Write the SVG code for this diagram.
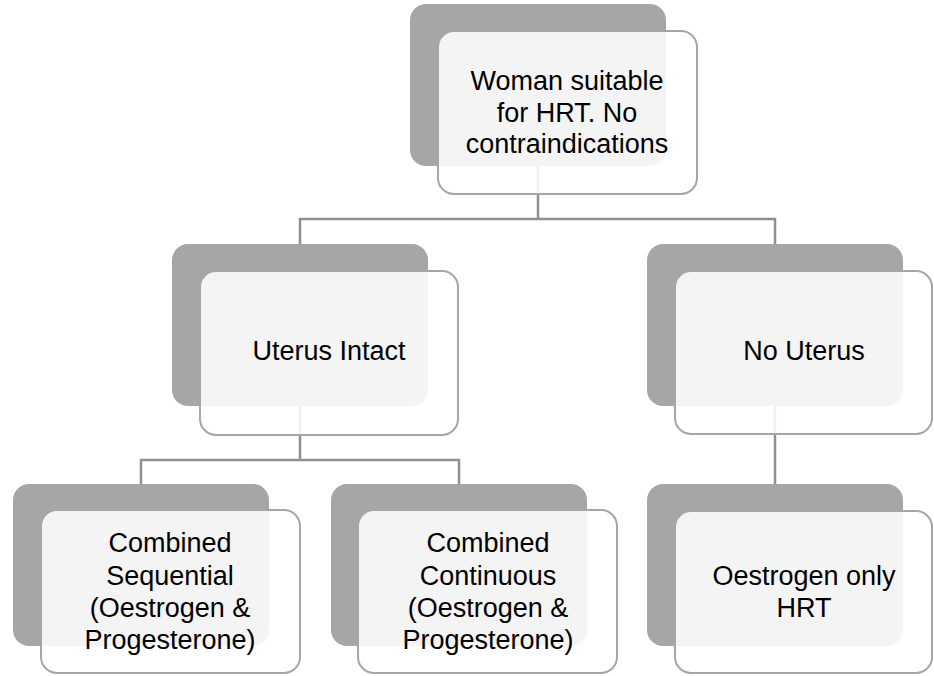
<svg xmlns="http://www.w3.org/2000/svg" width="934" height="676" viewBox="0 0 934 676">
<style>
.back{fill:#a6a6a6}
.front{fill:#ffffff;fill-opacity:0.88;stroke:#a6a6a6;stroke-width:2}
.conn{fill:none;stroke:#8f8f8f;stroke-width:2.5}
text{font-family:"Liberation Sans",Arial,sans-serif;font-size:27px;fill:#000;text-anchor:middle}
</style>
<rect width="934" height="676" fill="#ffffff"/>
<g id="n1-back"><rect class="back" x="410" y="4" width="256" height="162" rx="16"/></g>
<g id="n2-back"><rect class="back" x="172" y="244" width="256" height="162" rx="16"/></g>
<g id="n3-back"><rect class="back" x="647" y="244" width="256" height="162" rx="16"/></g>
<g id="n4-back"><rect class="back" x="13" y="484" width="256" height="162" rx="16"/></g>
<g id="n5-back"><rect class="back" x="331" y="484" width="256" height="162" rx="16"/></g>
<g id="n6-back"><rect class="back" x="647" y="484" width="256" height="162" rx="16"/></g>
<g id="connectors">
<path class="conn" d="M538 166 V219 M300 244 V219 H775 V244"/>
<path class="conn" d="M300 406 V460 M141 484 V460 H459 V484"/>
<path class="conn" d="M775 406 V484"/>
</g>
<g id="n1">
<rect class="front" x="438" y="31" width="259" height="163" rx="16"/>
<text x="567" y="90">Woman suitable</text>
<text x="567" y="122">for HRT. No</text>
<text x="567" y="153">contraindications</text>
</g>
<g id="n2">
<rect class="front" x="200" y="271" width="258" height="164" rx="16"/>
<text x="329" y="360">Uterus Intact</text>
</g>
<g id="n3">
<rect class="front" x="675" y="271" width="257" height="163" rx="16"/>
<text x="804" y="360">No Uterus</text>
</g>
<g id="n4">
<rect class="front" x="41" y="510" width="259" height="163" rx="16"/>
<text x="170" y="552">Combined</text>
<text x="170" y="585">Sequential</text>
<text x="170" y="617">(Oestrogen &amp;</text>
<text x="170" y="649">Progesterone)</text>
</g>
<g id="n5">
<rect class="front" x="358" y="510" width="259" height="163" rx="16"/>
<text x="488" y="552">Combined</text>
<text x="488" y="585">Continuous</text>
<text x="488" y="617">(Oestrogen &amp;</text>
<text x="488" y="649">Progesterone)</text>
</g>
<g id="n6">
<rect class="front" x="675" y="511" width="257" height="162" rx="16"/>
<text x="804" y="585">Oestrogen only</text>
<text x="804" y="617">HRT</text>
</g>
</svg>
